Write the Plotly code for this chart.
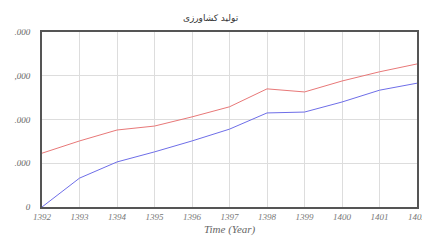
import plotly.graph_objects as go

years = [1392, 1393, 1394, 1395, 1396, 1397, 1398, 1399, 1400, 1401, 1402]
series_red = [1.23, 1.51, 1.76, 1.85, 2.06, 2.29, 2.70, 2.63, 2.88, 3.09, 3.27]
series_blue = [0.0, 0.66, 1.03, 1.26, 1.51, 1.78, 2.15, 2.17, 2.40, 2.67, 2.83]
y_tickvals = [0, 1, 2, 3, 4]
y_ticktext = ["0", ".000", ".000", ",000", ".000"]
title_text = "تولید کشاورزی"
x_title = "Time (Year)"

fig = go.Figure()
fig.add_trace(go.Scatter(x=years, y=series_red, mode="lines",
                         line=dict(color="#e87878", width=1), showlegend=False))
fig.add_trace(go.Scatter(x=years, y=series_blue, mode="lines",
                         line=dict(color="#6e6ee8", width=1), showlegend=False))

# page body adds an 8px offset, so the figure is 8px smaller than the window
fig.update_layout(
    width=422, height=237,
    margin=dict(l=34, r=13, t=24, b=38, autoexpand=False),
    paper_bgcolor="white", plot_bgcolor="white",
    title=dict(text=title_text, x=0.48, xanchor="center", y=0.958, yanchor="middle",
               font=dict(family="DejaVu Sans", size=9, color="#333")),
    annotations=[dict(text=x_title, xref="paper", yref="paper", x=0.5, y=-0.126,
                      xanchor="center", yanchor="middle", showarrow=False,
                      font=dict(family="Liberation Serif", size=11, color="#666", style="italic"))],
)
fig.update_xaxes(
    range=[1392, 1402], tickvals=years, ticktext=[str(y) for y in years],
    showgrid=True, gridcolor="#dddddd", gridwidth=1,
    showline=True, linecolor="#555555", linewidth=2, mirror=True,
    ticks="", automargin=False,
    tickfont=dict(family="Liberation Serif", size=9, color="#777", style="italic"),
    zeroline=False,
)
fig.update_yaxes(
    range=[0, 4], tickvals=y_tickvals, ticktext=y_ticktext,
    showgrid=True, gridcolor="#dddddd", gridwidth=1,
    showline=True, linecolor="#555555", linewidth=2, mirror=True,
    ticks="", ticklabelstandoff=8, automargin=False,
    tickfont=dict(family="Liberation Serif", size=9, color="#666", style="italic"),
    zeroline=False,
)
fig.write_html("out.html")
